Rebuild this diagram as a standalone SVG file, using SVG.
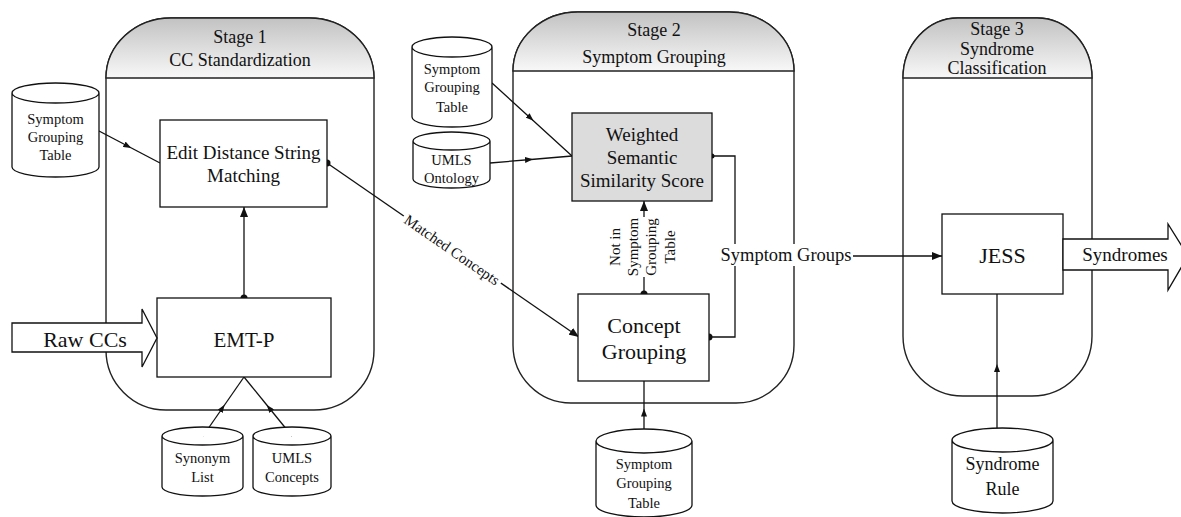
<svg xmlns="http://www.w3.org/2000/svg" width="1181" height="517" viewBox="0 0 1181 517">
<style>
text{font-family:"Liberation Serif","Times New Roman",serif;fill:#111;text-anchor:middle}
.stage{fill:#fff;stroke:#222;stroke-width:1.4}
.hdr{fill:url(#hg);stroke:#222;stroke-width:1.4}
.box{fill:#fff;stroke:#111;stroke-width:1.3}
.gray{fill:#dcdcdc}
.cyl{fill:#fff;stroke:#111;stroke-width:1.3}
.ln{fill:none;stroke:#111;stroke-width:1.3}
.blk{fill:#fff;stroke:#111;stroke-width:1.3}
.h{font-size:18px}
.b19{font-size:19px}
.b21{font-size:21px}
.c{font-size:14.5px}
.lbl{font-size:15px}
</style>
<defs>
<linearGradient id="hg" x1="0" y1="0" x2="0" y2="1">
<stop offset="0" stop-color="#c2c2c2"/>
<stop offset="1" stop-color="#f8f8f8"/>
</linearGradient>
<marker id="arr" markerUnits="userSpaceOnUse" markerWidth="10" markerHeight="8" refX="10" refY="4" orient="auto"><path d="M0,0 L10,4 L0,8 Z" fill="#111"/></marker>
<marker id="arrm" markerUnits="userSpaceOnUse" markerWidth="8" markerHeight="6" refX="6" refY="3" orient="auto"><path d="M0,0 L8,3 L0,6 Z" fill="#111"/></marker>
<marker id="dot" markerUnits="userSpaceOnUse" markerWidth="8" markerHeight="8" refX="4" refY="4"><circle cx="4" cy="4" r="3.5" fill="#111"/></marker>
<marker id="dots" markerUnits="userSpaceOnUse" markerWidth="6" markerHeight="6" refX="3" refY="3"><circle cx="3" cy="3" r="2.5" fill="#111"/></marker>
</defs>

<g id="stage1">
<path class="stage" d="M106,78 A65,60 0 0 1 171,18 L309,18 A65,60 0 0 1 374,78 L374,350 A60,60 0 0 1 314,410 L166,410 A60,60 0 0 1 106,350 Z"/>
<path class="hdr" d="M106,78 A65,60 0 0 1 171,18 L309,18 A65,60 0 0 1 374,78 Z"/>
<text class="h" x="240" y="43">Stage 1</text>
<text class="h" x="240" y="66">CC Standardization</text>
</g>
<g id="stage2">
<path class="stage" d="M513,71 A65,59 0 0 1 578,12 L729,12 A65,59 0 0 1 794,71 L794,345 A58,58 0 0 1 736,403 L571,403 A58,58 0 0 1 513,345 Z"/>
<path class="hdr" d="M513,71 A65,59 0 0 1 578,12 L729,12 A65,59 0 0 1 794,71 Z"/>
<text class="h" x="654" y="36">Stage 2</text>
<text class="h" x="654" y="63">Symptom Grouping</text>
</g>
<g id="stage3">
<path class="stage" d="M903,78 A55,60 0 0 1 958,18 L1037,18 A55,60 0 0 1 1092,78 L1092,336 A60,60 0 0 1 1032,396 L963,396 A60,60 0 0 1 903,336 Z"/>
<path class="hdr" d="M903,78 A55,60 0 0 1 958,18 L1037,18 A55,60 0 0 1 1092,78 Z"/>
<text class="h" x="997" y="35">Stage 3</text>
<text class="h" x="997" y="55">Syndrome</text>
<text class="h" x="997" y="74">Classification</text>
</g>

<g id="connectors">
<path class="ln" d="M99,131 L129.5,147 L160,163" marker-mid="url(#arrm)"/>
<path class="ln" d="M244,298 L244,207" marker-start="url(#dot)" marker-end="url(#arr)"/>
<path class="ln" d="M203,436 L223.5,406.5 L244,377" marker-mid="url(#arrm)"/>
<path class="ln" d="M292,436 L268,406.5 L244,377" marker-mid="url(#arrm)"/>
<path class="ln" d="M327,163 L579,337" marker-start="url(#dot)" marker-end="url(#arr)"/>
<path class="ln" d="M492,83 L532,119.5 L572,156" marker-mid="url(#arrm)"/>
<path class="ln" d="M490,163 L531,159.5 L572,156" marker-mid="url(#arrm)"/>
<path class="ln" d="M644,294 L644,277" marker-start="url(#dot)"/>
<path class="ln" d="M644,217 L644,201" marker-end="url(#arr)"/>
<path class="ln" d="M712,156 L735,156 L735,337 L709,337" marker-start="url(#dots)" marker-end="url(#dot)"/>
<path class="ln" d="M735,256 L942,256" marker-end="url(#arr)"/>
<path class="ln" d="M644,440 L644,410.5 L644,381" marker-mid="url(#arrm)"/>
<path class="ln" d="M997,438 L997,366 L997,294" marker-mid="url(#arrm)"/>
<g transform="translate(452,250) rotate(34.6)">
<rect x="-59" y="-8" width="118" height="16" fill="#fff"/>
<text class="lbl" x="0" y="5">Matched Concepts</text>
</g>
<g transform="translate(620,247) rotate(-90)">
<text class="lbl" x="0" y="0">Not in<tspan x="0" dy="18">Symptom</tspan><tspan x="0" dy="18">Grouping</tspan><tspan x="0" dy="19">Table</tspan></text>
</g>
<rect x="719" y="244" width="134" height="22" fill="#fff"/>
<text style="font-size:18.5px" x="786" y="261">Symptom Groups</text>
</g>

<g id="sgt1">
<path class="cyl" d="M12,93 A43.5,10 0 0 1 99,93 L99,167 A43.5,10 0 0 1 12,167 Z M12,93 A43.5,10 0 0 0 99,93"/>
<text class="c" x="55.5" y="124">Symptom</text>
<text class="c" x="55.5" y="142">Grouping</text>
<text class="c" x="55.5" y="160">Table</text>
</g>
<g id="edit">
<rect class="box" x="160" y="120" width="167" height="87"/>
<text class="b19" x="243.5" y="159">Edit Distance String</text>
<text class="b19" x="243.5" y="182">Matching</text>
</g>
<g id="emtp">
<rect class="box" x="157" y="298" width="174" height="79"/>
<text class="b21" x="244" y="347">EMT-P</text>
</g>
<g id="rawccs">
<path class="blk" d="M12,323 L142,323 L142,309 L157,338 L142,367 L142,352 L12,352 Z"/>
<text style="font-size:22px" x="85" y="347">Raw CCs</text>
</g>
<g id="synonym">
<path class="cyl" d="M162,436 A40.5,9 0 0 1 243,436 L243,487 A40.5,9 0 0 1 162,487 Z M162,436 A40.5,9 0 0 0 243,436"/>
<text class="c" x="202.5" y="463">Synonym</text>
<text class="c" x="202.5" y="482">List</text>
</g>
<g id="umlsconcepts">
<path class="cyl" d="M253,436 A39,9 0 0 1 331,436 L331,487 A39,9 0 0 1 253,487 Z M253,436 A39,9 0 0 0 331,436"/>
<text class="c" x="292" y="463">UMLS</text>
<text class="c" x="292" y="482">Concepts</text>
</g>
<g id="sgt2">
<path class="cyl" d="M412,47 A40,10 0 0 1 492,47 L492,117 A40,10 0 0 1 412,117 Z M412,47 A40,10 0 0 0 492,47"/>
<text class="c" x="452" y="74">Symptom</text>
<text class="c" x="452" y="92">Grouping</text>
<text class="c" x="452" y="112">Table</text>
</g>
<g id="umlsontology">
<path class="cyl gray" d="M413,141 A38.5,9 0 0 1 490,141 L490,179 A38.5,9 0 0 1 413,179 Z M413,141 A38.5,9 0 0 0 490,141"/>
<text class="c" x="451.5" y="165">UMLS</text>
<text class="c" x="451.5" y="183">Ontology</text>
</g>
<g id="weighted">
<rect class="box gray" x="572" y="113" width="140" height="88"/>
<text class="b19" x="642" y="141">Weighted</text>
<text class="b19" x="642" y="164">Semantic</text>
<text class="b19" x="642" y="187">Similarity Score</text>
</g>
<g id="concept">
<rect class="box" x="578" y="294" width="131" height="87"/>
<text style="font-size:22px" x="644" y="333">Concept</text>
<text style="font-size:22px" x="644" y="359">Grouping</text>
</g>
<g id="sgt3">
<path class="cyl" d="M596,441 A48,12 0 0 1 692,441 L692,505 A48,12 0 0 1 596,505 Z M596,441 A48,12 0 0 0 692,441"/>
<text class="c" x="644" y="469">Symptom</text>
<text class="c" x="644" y="488">Grouping</text>
<text class="c" x="644" y="508">Table</text>
</g>
<g id="jess">
<rect class="box" x="942" y="214" width="121" height="80"/>
<text style="font-size:22px" x="1002.5" y="263">JESS</text>
</g>
<g id="syndromes">
<path class="blk" d="M1063,239 L1168,239 L1168,224 L1188,256 L1168,290 L1168,270 L1063,270 Z"/>
<text class="b19" x="1125" y="261">Syndromes</text>
</g>
<g id="syndromerule">
<path class="cyl" d="M952,440 A50.5,12 0 0 1 1053,440 L1053,501 A50.5,12 0 0 1 952,501 Z M952,440 A50.5,12 0 0 0 1053,440"/>
<text class="h" x="1002.5" y="470">Syndrome</text>
<text class="h" x="1002.5" y="495">Rule</text>
</g>
</svg>
